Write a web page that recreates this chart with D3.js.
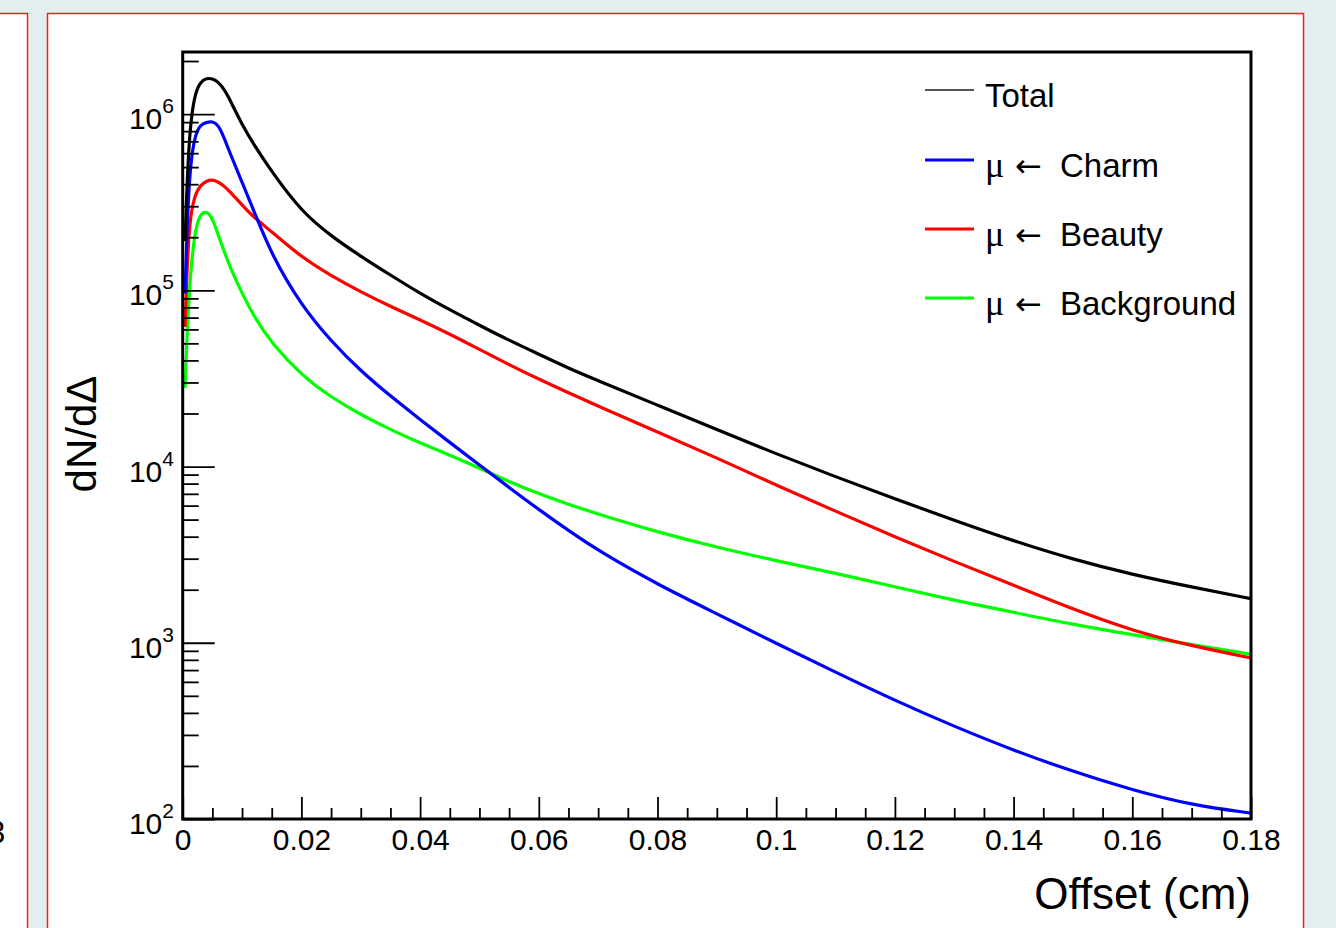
<!DOCTYPE html>
<html>
<head>
<meta charset="utf-8">
<script src="https://cdn.jsdelivr.net/npm/d3@7"></script>
<style>
  body { margin: 0; background: #e2eef0; }
  svg text { font-family: "Liberation Sans", Arial, Helvetica, sans-serif; fill: #000; }
</style>
</head>
<body>
<div id="chart"></div>
<script>
const offsets = [0.0004, 0.001, 0.002, 0.003, 0.004, 0.005, 0.006, 0.007, 0.008, 0.010, 0.012,
                 0.015, 0.020, 0.025, 0.030, 0.035, 0.040, 0.045, 0.050, 0.055, 0.060, 0.065,
                 0.070, 0.080, 0.090, 0.100, 0.110, 0.120, 0.130, 0.140, 0.150, 0.160, 0.170, 0.180];

// dN/dDelta for each component
const total = [1.9e5, 7.4e5, 1.31e6, 1.52e6, 1.6e6, 1.59e6, 1.52e6, 1.38e6, 1.2e6, 8.7e5, 6.7e5,
               4.7e5, 2.8e5, 2.03e5, 1.56e5, 1.22e5, 9.6e4, 7.75e4, 6.33e4, 5.2e4, 4.34e4, 3.61e4,
               3.07e4, 2.23e4, 1.62e4, 1.18e4, 8.75e3, 6.55e3, 4.95e3, 3.78e3, 2.97e3, 2.44e3, 2.07e3, 1.78e3];
const charm = [9.6e4, 4.4e5, 7.6e5, 8.7e5, 9.0e5, 9.1e5, 8.7e5, 7.3e5, 5.97e5, 4.1e5, 2.82e5,
               1.58e5, 8.2e4, 5.14e4, 3.48e4, 2.51e4, 1.85e4, 1.37e4, 1.02e4, 7.6e3, 5.7e3, 4.33e3,
               3.33e3, 2.14e3, 1.46e3, 993, 680, 470, 335, 245, 186, 146, 120, 108];
const beauty = [6.2e4, 2.4e5, 3.47e5, 3.95e5, 4.17e5, 4.25e5, 4.12e5, 3.9e5, 3.62e5, 3.05e5, 2.59e5,
                2.15e5, 1.54e5, 1.21e5, 9.8e4, 8.1e4, 6.8e4, 5.65e4, 4.62e4, 3.78e4, 3.13e4, 2.62e4,
                2.2e4, 1.57e4, 1.12e4, 7.83e3, 5.58e3, 3.99e3, 2.89e3, 2.12e3, 1.55e3, 1.17e3, 959, 820];
const background = [2.8e4, 9.6e4, 2.2e5, 2.72e5, 2.82e5, 2.58e5, 2.05e5, 1.66e5, 1.35e5, 9.6e4, 7.1e4,
                    4.99e4, 3.3e4, 2.47e4, 1.97e4, 1.62e4, 1.36e4, 1.16e4, 9.8e3, 8.2e3, 7.0e3, 6.1e3,
                    5.37e3, 4.25e3, 3.48e3, 2.92e3, 2.48e3, 2.08e3, 1.74e3, 1.49e3, 1.27e3, 1.11e3, 977, 860];

const seriesNames = ["Total", "Charm", "Beauty", "Background"];
const seriesValues = [total, charm, beauty, background];
const seriesColors = ["#000000", "#0000ff", "#ff0000", "#00ff00"];

// tick labels
const xMajorTicks = [0, 0.02, 0.04, 0.06, 0.08, 0.1, 0.12, 0.14, 0.16, 0.18];
const yExponents = [2, 3, 4, 5, 6];

// frame geometry
const frame = { left: 182.7, top: 52, right: 1251, bottom: 819 };

const svg = d3.select("#chart").append("svg")
    .attr("width", 1336)
    .attr("height", 928);

// the two canvas panels (left one mostly off screen)
svg.append("rect")
    .attr("x", -20).attr("y", 13.5)
    .attr("width", 47.5).attr("height", 940)
    .attr("fill", "#fff").attr("stroke", "#ff1a1a").attr("stroke-width", 1.5);

svg.append("text")
    .attr("x", -12).attr("y", 843)
    .style("font-size", "31px")
    .text("3");

svg.append("rect")
    .attr("x", 47.5).attr("y", 13.5)
    .attr("width", 1256).attr("height", 940)
    .attr("fill", "#fff").attr("stroke", "#ff1a1a").attr("stroke-width", 1.5);

// scales
const x = d3.scaleLinear()
    .domain([0, 0.18])
    .range([frame.left, frame.right]);

const y = d3.scaleLog()
    .domain([100, 2.25e6])
    .range([frame.bottom, frame.top]);

// clip curves to the frame
svg.append("clipPath").attr("id", "clip")
  .append("rect")
    .attr("x", frame.left).attr("y", frame.top)
    .attr("width", frame.right - frame.left).attr("height", frame.bottom - frame.top);

const line = d3.line()
    .x(d => x(d[0]))
    .y(d => y(d[1]))
    .curve(d3.curveBasis);

// draw background first so Total sits on top
[3, 2, 1, 0].forEach(i => {
  svg.append("path")
      .datum(offsets.map((o, j) => [o, seriesValues[i][j]]))
      .attr("clip-path", "url(#clip)")
      .attr("fill", "none")
      .attr("stroke", seriesColors[i])
      .attr("stroke-width", 3.2)
      .attr("stroke-linejoin", "round")
      .attr("d", line);
});

// minor tick values
const xMinorTicks = d3.range(0, 37).map(i => i * 0.005).filter((v, i) => i % 4 !== 0);
const yMinorTicks = [];
yExponents.forEach(e => {
  for (let m = 2; m <= 9; m++) {
    const v = m * Math.pow(10, e);
    if (v <= 2.25e6) yMinorTicks.push(v);
  }
});
const yMajorTicks = yExponents.map(e => Math.pow(10, e));

function styleAxis(g) {
  g.select(".domain").remove();
  g.selectAll(".tick line").attr("stroke", "#000").attr("stroke-width", 1.8);
}

// x axis
svg.append("g")
    .attr("transform", "translate(0," + frame.bottom + ")")
    .call(d3.axisBottom(x).tickValues(xMinorTicks).tickSize(-11).tickFormat(""))
    .call(styleAxis);

svg.append("g")
    .attr("transform", "translate(0," + frame.bottom + ")")
    .call(d3.axisBottom(x).tickValues(xMajorTicks).tickSize(-22).tickPadding(10)
          .tickFormat(d => String(d)))
    .call(styleAxis)
    .call(g => g.selectAll("text").style("font-size", "30px"));

// y axis
svg.append("g")
    .attr("transform", "translate(" + frame.left + ",0)")
    .call(d3.axisLeft(y).tickValues(yMinorTicks).tickSize(-16).tickFormat(""))
    .call(styleAxis);

svg.append("g")
    .attr("transform", "translate(" + frame.left + ",0)")
    .call(d3.axisLeft(y).tickValues(yMajorTicks).tickSize(-32).tickFormat(""))
    .call(styleAxis);

// y labels as 10^n
yExponents.forEach(e => {
  const ty = y(Math.pow(10, e));
  const t = svg.append("text")
      .attr("x", 174)
      .attr("y", ty + 15)
      .attr("text-anchor", "end");
  t.append("tspan").style("font-size", "30px").text("10");
  t.append("tspan").style("font-size", "21px").attr("dy", -16).text(e);
});

// frame
svg.append("rect")
    .attr("x", frame.left).attr("y", frame.top)
    .attr("width", frame.right - frame.left).attr("height", frame.bottom - frame.top)
    .attr("fill", "none").attr("stroke", "#000").attr("stroke-width", 3);

// axis titles
svg.append("text")
    .attr("x", frame.right)
    .attr("y", 909)
    .attr("text-anchor", "end")
    .style("font-size", "44px")
    .text("Offset (cm)");

svg.append("text")
    .attr("transform", "translate(96,434) rotate(-90)")
    .attr("text-anchor", "middle")
    .style("font-size", "42px")
    .text("dN/dΔ");

// legend
const legendY = [90, 160, 229, 298];
seriesNames.forEach((name, i) => {
  svg.append("line")
      .attr("x1", 925).attr("x2", 974)
      .attr("y1", legendY[i]).attr("y2", legendY[i])
      .attr("stroke", i === 0 ? "#555" : seriesColors[i])
      .attr("stroke-width", i === 0 ? 2 : 3);

  const t = svg.append("text")
      .attr("y", legendY[i] + 17)
      .style("font-size", "33px");
  if (i === 0) {
    t.attr("x", 985).text(name);
  } else {
    // mu and arrow, then the source name
    t.append("tspan").attr("x", 985)
        .style("font-family", "'Liberation Serif', 'DejaVu Serif', serif")
        .style("font-size", "36px").text("μ");
    t.append("tspan").attr("x", 1015)
        .style("font-family", "'DejaVu Sans', sans-serif").style("font-size", "32px").text("←");
    t.append("tspan").attr("x", 1060).text(name);
  }
});
</script>
</body>
</html>
